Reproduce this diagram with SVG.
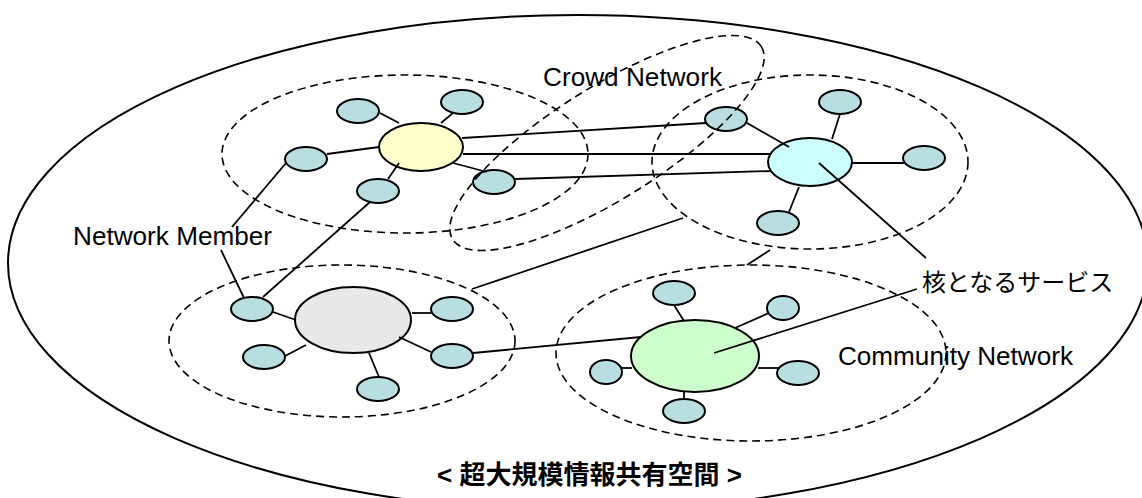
<svg xmlns="http://www.w3.org/2000/svg" width="1142" height="498" viewBox="0 0 1142 498">
<style>
.bg{fill:#ffffff}
.outer{fill:none;stroke:#000;stroke-width:2}
.cl{fill:none;stroke:#000;stroke-width:1.6;stroke-dasharray:8 5}
.m{fill:#b8dee1;stroke:#000;stroke-width:2}
.hy{fill:#ffffcc;stroke:#000;stroke-width:2}
.hc{fill:#ccffff;stroke:#000;stroke-width:2}
.hg{fill:#e8e8e8;stroke:#000;stroke-width:2}
.hn{fill:#ccffcc;stroke:#000;stroke-width:2}
.ln{stroke:#000;stroke-width:1.8;fill:none}
.t{font-family:"Liberation Sans","Noto Sans CJK JP",sans-serif;font-size:26px;fill:#000}
.tj{font-family:"Liberation Sans","Noto Sans CJK JP",sans-serif;font-size:24px;fill:#000}
.tb{font-family:"Liberation Sans","Noto Sans CJK JP",sans-serif;font-size:26px;font-weight:bold;fill:#000}
</style>
<rect class="bg" x="0" y="0" width="1142" height="498"/>
<ellipse id="space" class="outer" cx="578" cy="263" rx="570" ry="248"/>

<g id="hub-yellow"><ellipse class="hy" cx="421" cy="147" rx="42" ry="24"/></g>
<g id="y-m1"><ellipse class="m" cx="358" cy="111" rx="21" ry="12"/></g>
<g id="y-m2"><ellipse class="m" cx="462" cy="102" rx="21" ry="12"/></g>
<g id="y-m3"><ellipse class="m" cx="306" cy="159" rx="21" ry="12"/></g>
<g id="y-m4"><ellipse class="m" cx="378" cy="191" rx="21" ry="12"/></g>
<g id="y-m5"><ellipse class="m" cx="494" cy="182" rx="21" ry="12"/></g>

<g id="hub-cyan"><ellipse class="hc" cx="810" cy="162" rx="42" ry="24"/></g>
<g id="c-m1"><ellipse class="m" cx="726" cy="119" rx="21" ry="12"/></g>
<g id="c-m2"><ellipse class="m" cx="840" cy="102" rx="21" ry="12"/></g>
<g id="c-m3"><ellipse class="m" cx="924" cy="158" rx="21" ry="12"/></g>
<g id="c-m4"><ellipse class="m" cx="778" cy="223" rx="21" ry="12"/></g>

<g id="hub-gray"><ellipse class="hg" cx="353" cy="320" rx="58" ry="33"/></g>
<g id="g-m1"><ellipse class="m" cx="252" cy="309" rx="21" ry="12"/></g>
<g id="g-m2"><ellipse class="m" cx="264" cy="357" rx="21" ry="12"/></g>
<g id="g-m3"><ellipse class="m" cx="452" cy="309" rx="21" ry="12"/></g>
<g id="g-m4"><ellipse class="m" cx="452" cy="356" rx="21" ry="12"/></g>
<g id="g-m5"><ellipse class="m" cx="378" cy="389" rx="21" ry="12"/></g>

<g id="hub-green"><ellipse class="hn" cx="695" cy="356" rx="64" ry="36"/></g>
<g id="n-m1"><ellipse class="m" cx="674" cy="293" rx="21" ry="12"/></g>
<g id="n-m2"><ellipse class="m" cx="783" cy="308" rx="16" ry="12"/></g>
<g id="n-m3"><ellipse class="m" cx="606" cy="372" rx="16" ry="12"/></g>
<g id="n-m4"><ellipse class="m" cx="798" cy="373" rx="21" ry="12"/></g>
<g id="n-m5"><ellipse class="m" cx="684" cy="411" rx="21" ry="12"/></g>

<g id="connectors" class="ln">
<line x1="380" y1="113" x2="399" y2="123"/>
<line x1="453" y1="113" x2="441" y2="123"/>
<line x1="327" y1="154" x2="379" y2="147"/>
<line x1="388" y1="179" x2="399" y2="163"/>
<line x1="453" y1="163" x2="487" y2="172"/>
<line x1="462" y1="138" x2="706" y2="123"/>
<line x1="463" y1="154" x2="770" y2="154"/>
<line x1="515" y1="179" x2="771" y2="171"/>
<line x1="747" y1="123" x2="789" y2="147"/>
<line x1="840" y1="114" x2="832" y2="139"/>
<line x1="851" y1="163" x2="904" y2="163"/>
<line x1="799" y1="187" x2="789" y2="212"/>
<line x1="819" y1="163" x2="926" y2="258"/>
<line x1="273" y1="312" x2="296" y2="320"/>
<line x1="285" y1="356" x2="306" y2="345"/>
<line x1="412" y1="313" x2="431" y2="313"/>
<line x1="399" y1="337" x2="431" y2="352"/>
<line x1="369" y1="353" x2="379" y2="377"/>
<line x1="263" y1="297" x2="370" y2="202"/>
<line x1="286" y1="163" x2="232" y2="227"/>
<line x1="221" y1="250" x2="244" y2="298"/>
<line x1="472" y1="289" x2="683" y2="218"/>
<line x1="473" y1="353" x2="641" y2="337"/>
<line x1="770" y1="250" x2="747" y2="265"/>
<line x1="674" y1="305" x2="684" y2="321"/>
<line x1="769" y1="313" x2="735" y2="328"/>
<line x1="622" y1="368" x2="632" y2="368"/>
<line x1="758" y1="368" x2="778" y2="368"/>
<line x1="684" y1="392" x2="684" y2="399"/>
<line x1="714" y1="353" x2="917" y2="289"/>
</g>

<g id="cluster-yellow"><ellipse class="cl" cx="405" cy="154" rx="183" ry="79"/></g>
<g id="cluster-cyan"><ellipse class="cl" cx="810" cy="162" rx="158" ry="87"/></g>
<g id="cluster-gray"><ellipse class="cl" cx="342" cy="341" rx="173" ry="76"/></g>
<g id="cluster-green"><ellipse class="cl" cx="751" cy="353" rx="195" ry="88"/></g>
<g id="cluster-crowd"><ellipse class="cl" cx="607" cy="143" rx="182" ry="56" transform="rotate(-32 607 143)"/></g>

<g id="labels">
<text class="t" x="543" y="86" textLength="179" lengthAdjust="spacingAndGlyphs">Crowd Network</text>
<text class="t" x="73" y="245" textLength="199" lengthAdjust="spacingAndGlyphs">Network Member</text>
<text class="t" x="838" y="365" textLength="235" lengthAdjust="spacingAndGlyphs">Community Network</text>
<text class="tj" x="922" y="291">核となるサービス</text>
<text class="tb" x="437" y="484">&lt; 超大規模情報共有空間 &gt;</text>
</g>
</svg>
